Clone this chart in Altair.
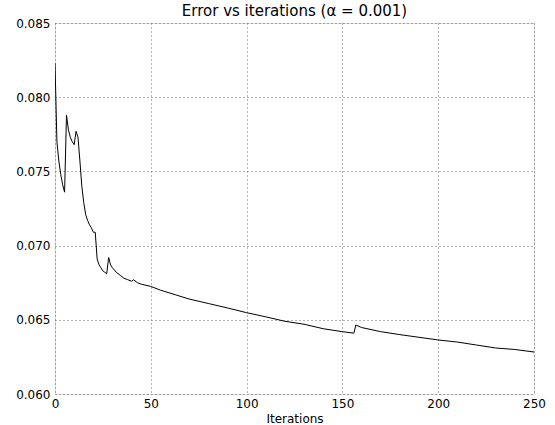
import altair as alt
import pandas as pd

iterations = [0, 1, 2, 3, 4, 5, 6, 7, 8, 9, 10, 11, 12, 13, 14, 15, 16, 17, 18, 19,
              20, 21, 22, 23, 24, 25, 26, 27, 28, 29, 30, 32, 34, 36, 38, 40, 41, 43,
              45, 50, 55, 60, 70, 80, 90, 100, 110, 120, 130, 140, 150, 156, 157, 160,
              170, 180, 190, 200, 210, 220, 230, 240, 250]
errors = [0.0823, 0.0770, 0.0757, 0.0748, 0.0741, 0.0736, 0.0788, 0.0778, 0.0773, 0.0770,
          0.0768, 0.0777, 0.0773, 0.0757, 0.0740, 0.0729, 0.0721, 0.0717, 0.0714, 0.0712,
          0.0709, 0.0709, 0.0691, 0.0687, 0.0685, 0.0683, 0.0682, 0.0681, 0.0692, 0.0687,
          0.0685, 0.0682, 0.0680, 0.0678, 0.0677, 0.0676, 0.0677, 0.0675,
          0.0674, 0.06725, 0.0670, 0.0668, 0.0664, 0.0661, 0.0658, 0.06548, 0.0652,
          0.0649, 0.0647, 0.0644, 0.0642, 0.0641, 0.06465, 0.06448,
          0.0642, 0.0640, 0.06382, 0.06364, 0.0635, 0.0633, 0.0631, 0.0630, 0.06283]

x_ticks = [0, 50, 100, 150, 200, 250]
y_ticks = [0.060, 0.065, 0.070, 0.075, 0.080, 0.085]

df = pd.DataFrame({"iteration": iterations, "error": errors})

FONT = "DejaVu Sans"

chart = alt.Chart(df).mark_line(color="black", strokeWidth=1, clip=True).encode(
    x=alt.X("iteration:Q",
            scale=alt.Scale(domain=[0, 250], nice=False, zero=False),
            axis=alt.Axis(values=x_ticks, title="Iterations", grid=True,
                          gridDash=[1, 3], gridColor="#666", gridWidth=1,
                          ticks=False, labelPadding=4, domain=False,
                          labelFlush=False, labelOverlap=False,
                          labelFont=FONT, labelFontSize=12, labelColor="black",
                          titleFont=FONT, titleFontSize=12, titleFontWeight="normal",
                          titleColor="black", titlePadding=4)),
    y=alt.Y("error:Q",
            scale=alt.Scale(domain=[0.060, 0.085], nice=False, zero=False),
            axis=alt.Axis(values=y_ticks, title=None, format=".3f", grid=True,
                          gridDash=[1, 3], gridColor="#666", gridWidth=1,
                          ticks=False, labelPadding=5, domain=False,
                          labelFlush=False, labelOverlap=False,
                          labelFont=FONT, labelFontSize=12, labelColor="black")),
).properties(
    width=479,
    height=371,
    title=alt.TitleParams("Error vs iterations (α = 0.001)", font=FONT, fontSize=15,
                          fontWeight="normal", color="black", offset=6, anchor="middle",
                          dy=8),
    autosize=alt.AutoSizeParams(type="none"),
    padding={"left": 55, "top": 23, "right": 21, "bottom": 31},
).configure_view(
    stroke="black", strokeWidth=1
).configure(background="white")

chart.save("out.html", embed_options={"renderer": "svg", "actions": False})
